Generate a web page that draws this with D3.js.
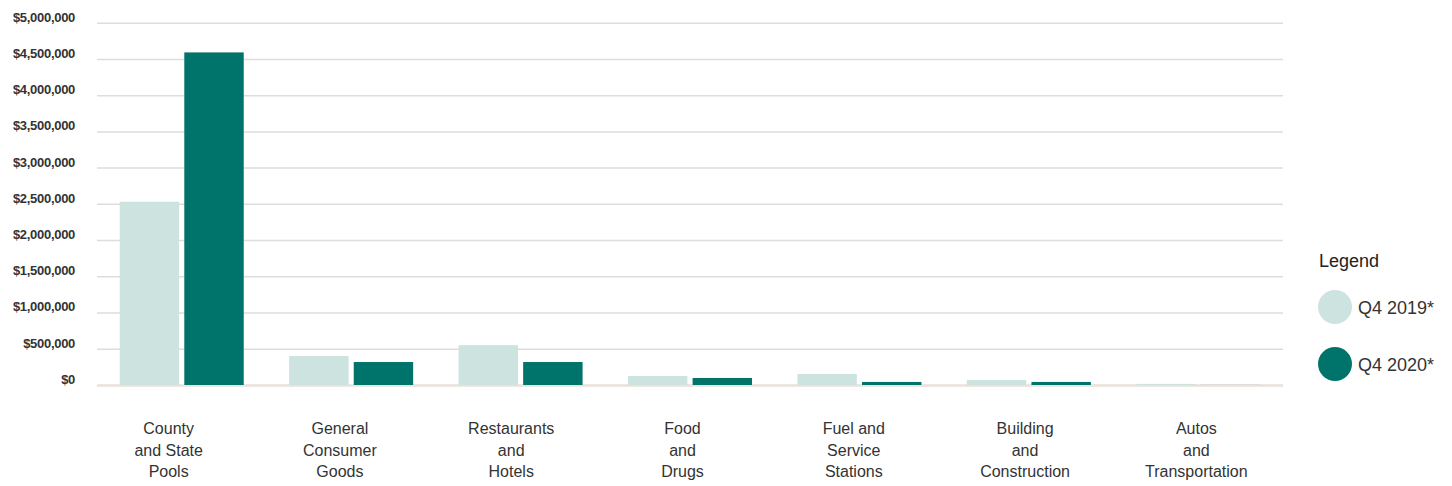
<!DOCTYPE html>
<html>
<head>
<meta charset="utf-8">
<script src="https://cdn.jsdelivr.net/npm/d3@7"></script>
<style>
  body { margin: 0; background: #fff; }
  svg { display: block; font-family: "Liberation Sans", Arial, sans-serif; }
</style>
</head>
<body>
<svg id="chart" width="1452" height="486"></svg>
<script>
// data
var categories = ["County and State Pools", "General Consumer Goods", "Restaurants and Hotels",
  "Food and Drugs", "Fuel and Service Stations", "Building and Construction", "Autos and Transportation"];
var labelLines = [
  ["County", "and State", "Pools"],
  ["General", "Consumer", "Goods"],
  ["Restaurants", "and", "Hotels"],
  ["Food", "and", "Drugs"],
  ["Fuel and", "Service", "Stations"],
  ["Building", "and", "Construction"],
  ["Autos", "and", "Transportation"]
];
var seriesNames = ["Q4 2019*", "Q4 2020*"];
var q4_2019 = [2530000, 400000, 550000, 125000, 152000, 70000, 15000];
var q4_2020 = [4590000, 317000, 317000, 97000, 42000, 42000, 1000];
var yTicks = [0, 500000, 1000000, 1500000, 2000000, 2500000, 3000000, 3500000, 4000000, 4500000, 5000000];
var colors = ["#cde3e0", "#00736a"];

var svg = d3.select("#chart");
var plotLeft = 97, plotRight = 1283, plotTop = 22.7, plotBottom = 385;

var data = categories.map(function(c, i){
    return {cat: c, values: [q4_2019[i], q4_2020[i]]};
});

var x0 = d3.scaleBand().domain(categories).range([plotLeft, plotRight])
    .paddingInner(0.268).paddingOuter(0.134);
var x1 = d3.scaleBand().domain(seriesNames).range([0, x0.bandwidth()]).paddingInner(0.08);
var y = d3.scaleLinear().domain([0, 5000000]).range([plotBottom, plotTop]);
// labels sit on a slightly wider spacing than the bars
var xLabel = d3.scaleBand().domain(categories).range([83, 1282]);

// gridlines + y labels
var yAxis = d3.axisLeft(y).tickValues(yTicks).tickFormat(d3.format("$,.0f"))
    .tickSize(-(plotRight - plotLeft)).tickPadding(22);
var gy = svg.append("g").attr("transform", `translate(${plotLeft},0)`).call(yAxis);
gy.select(".domain").remove();
gy.selectAll(".tick line").attr("stroke", "#dddddd").attr("stroke-width", 1.5);
gy.selectAll(".tick text")
    .attr("fill", "#333")
    .attr("font-size", "13px")
    .attr("font-weight", "bold")
    .attr("letter-spacing", "-0.3px")
    .attr("font-family", "'Liberation Sans', Arial, sans-serif")
    .attr("dy", "-0.12em");

// baseline
svg.append("line")
    .attr("x1", plotLeft).attr("x2", plotRight)
    .attr("y1", y(0) + 0.5).attr("y2", y(0) + 0.5)
    .attr("stroke", "#ebe2db").attr("stroke-width", 2.5);

// bars
var groups = svg.selectAll(".grp")
    .data(data)
    .join("g")
    .attr("class", "grp")
    .attr("transform", function(d){ return `translate(${x0(d.cat)},0)`; });

groups.selectAll("rect")
    .data(function(d){ return d.values.map(function(v, i){ return {s: seriesNames[i], v: v, i: i}; }); })
    .join("rect")
    .attr("x", function(d){ return x1(d.s); })
    .attr("y", function(d){ return y(d.v); })
    .attr("width", x1.bandwidth())
    .attr("height", function(d){ return y(0) - y(d.v); })
    .attr("fill", function(d){ return colors[d.i]; });

// category labels
var lab = svg.selectAll(".xlab")
    .data(categories)
    .join("text")
    .attr("class", "xlab")
    .attr("text-anchor", "middle")
    .attr("font-size", "16px")
    .attr("fill", "#333");
lab.each(function(c, i){
    var t = d3.select(this);
    labelLines[i].forEach(function(line, k){
        t.append("tspan")
            .attr("x", xLabel(c) + xLabel.bandwidth() / 2)
            .attr("y", 434 + k * 21.7)
            .text(line);
    });
});

// legend
svg.append("text")
    .attr("x", 1319).attr("y", 267)
    .attr("font-size", "18px")
    .attr("fill", "#222")
    .text("Legend");

var legendY = d3.scalePoint().domain(seriesNames).range([307, 364]);
var leg = svg.selectAll(".leg")
    .data(seriesNames)
    .join("g")
    .attr("class", "leg")
    .attr("transform", function(d){ return `translate(0,${legendY(d)})`; });
leg.append("circle")
    .attr("cx", 1335).attr("cy", 0).attr("r", 17)
    .attr("fill", function(d, i){ return colors[i]; });
leg.append("text")
    .attr("x", 1358).attr("y", 6.5)
    .attr("font-size", "18px")
    .attr("fill", "#333")
    .text(function(d){ return d; });
</script>
</body>
</html>
